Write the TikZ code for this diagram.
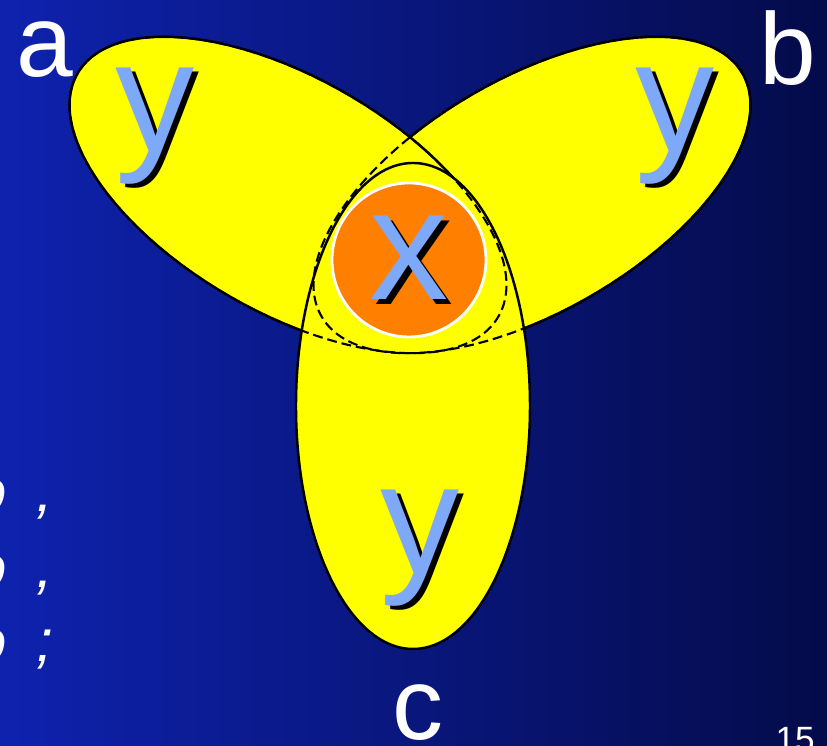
\documentclass[tikz,border=0pt]{standalone}
\usepackage{fontspec}
\setmainfont{Liberation Sans}
\usepackage{xcolor}
\definecolor{bgleft}{HTML}{0E22AE}
\definecolor{bgright}{HTML}{040B4A}
\definecolor{lobeyellow}{HTML}{FFFF00}
\definecolor{coreorange}{HTML}{FF7F00}
\definecolor{letterblue}{HTML}{7DA9F8}
\newcommand{\dropshade}[1]{\rlap{\kern0.05cm\raisebox{-0.045cm}{\color{black}#1}}#1}
\tikzset{
  lobe/.style={fill=lobeyellow, draw=black, line width=0.7pt},
  hidden/.style={draw=black, line width=0.6pt, dash pattern=on 2.8pt off 1.4pt},
  core/.style={circle, fill=coreorange, draw=white, line width=0.8pt, minimum size=1.54cm, inner sep=0pt},
  letter/.style={text=letterblue, font=\fontsize{45}{50}\selectfont, inner sep=0pt},
  corner/.style={text=white, font=\fontsize{29}{34}\selectfont, inner sep=0pt},
  code/.style={text=white, font=\itshape\fontsize{17}{20}\selectfont, inner sep=0pt},
  pagenum/.style={text=white, font=\fontsize{10}{12}\selectfont, inner sep=0pt}
}
\begin{document}
\begin{tikzpicture}
  \useasboundingbox (0,0) rectangle (8.27,7.46);
  \clip (0,0) rectangle (8.27,7.46);
  \shade[left color=bgleft, right color=bgright] (0,0) rectangle (8.27,7.46);
  % lobes, back to front
  \path[lobe] (5.32,5.51) circle [x radius=2.43, y radius=1.17, rotate=30];
  \path[lobe] (2.88,5.51) circle [x radius=2.43, y radius=1.17, rotate=150];
  \path[lobe] (4.13,3.40) circle [x radius=1.17, y radius=2.43];
  % hidden edges
  \path[hidden] (5.32,5.51) circle [x radius=2.43, y radius=1.17, rotate=30];
  \path[hidden] (2.88,5.51) circle [x radius=2.43, y radius=1.17, rotate=150];
  \node[core, letter] (xcore) at (4.09,4.86) {\dropshade{x}};
  \node[letter] (ya) at (1.55,6.18) {\dropshade{y}};
  \node[letter] (yb) at (6.75,6.18) {\dropshade{y}};
  \node[letter] (yc) at (4.20,1.96) {\dropshade{y}};
  \node[corner] (la) at (0.45,6.96) {a};
  \node[corner] (lb) at (7.88,6.98) {b};
  \node[corner] (lc) at (4.18,0.33) {c};
  % cut-off text at the left margin
  \node[code, anchor=base west] (rowa) at (-0.27,2.34) {o\hspace{0.30cm},};
  \node[code, anchor=base west] (rowb) at (-0.27,1.58) {o\hspace{0.30cm},};
  \node[code, anchor=base west] (rowc) at (-0.27,0.84) {o\hspace{0.30cm};};
  \node[pagenum, anchor=base west] (pg) at (7.75,-0.06) {15};
\end{tikzpicture}
\end{document}
